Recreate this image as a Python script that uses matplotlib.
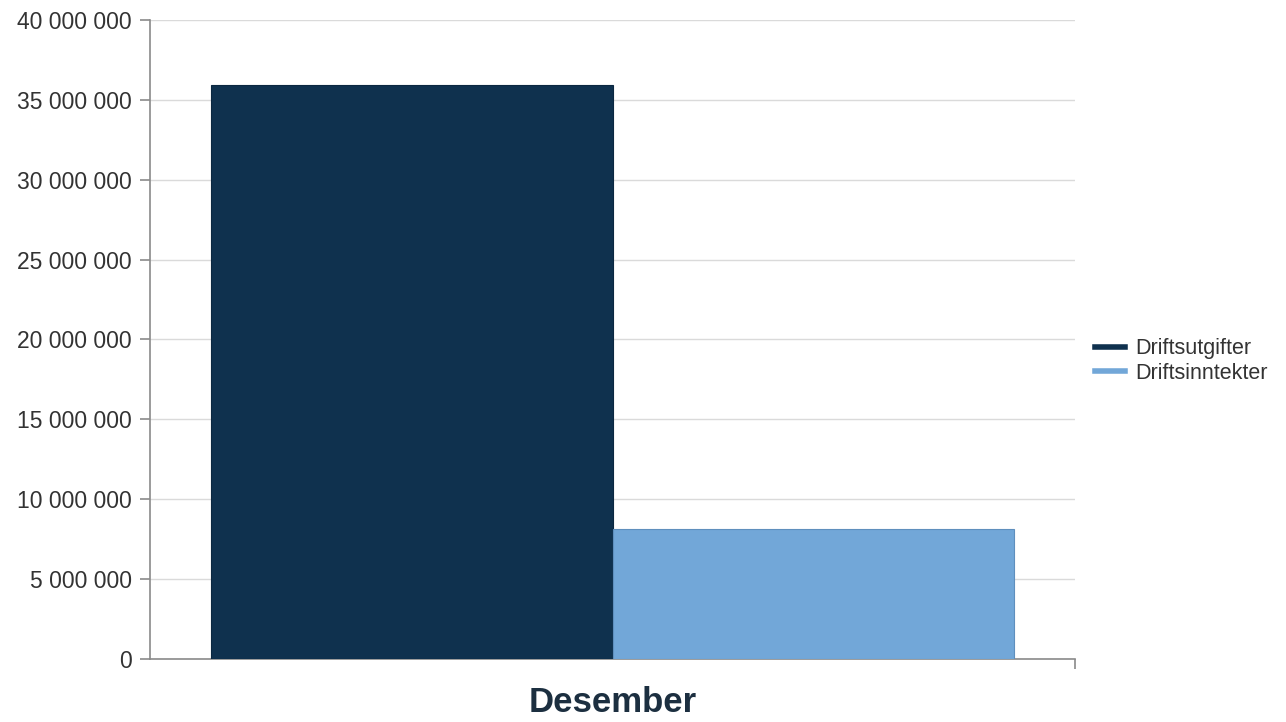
import numpy as np
import matplotlib.pyplot as plt
from matplotlib.lines import Line2D
from matplotlib.ticker import FuncFormatter

plt.rcParams['font.family'] = ['Liberation Sans', 'DejaVu Sans']

# data
months = ["Desember"]
series = ["Driftsutgifter", "Driftsinntekter"]
utgifter = [35930000]
inntekter = [8140000]
colors = ["#0f314e", "#72a7d8"]
edges = ["#0b2740", "#5f8fbd"]

fig = plt.figure(figsize=(12.86, 7.22), dpi=100)
ax = fig.add_axes([0.1166, 0.0873, 0.7194, 0.885])

x = np.arange(len(months))
w = 0.4335
ax.bar(x - w / 2, utgifter, w, color=colors[0], edgecolor=edges[0], linewidth=0.8, zorder=3)
ax.bar(x + w / 2, inntekter, w, color=colors[1], edgecolor=edges[1], linewidth=0.8, zorder=3)

ax.set_xlim(-0.5, 0.5)
ax.set_ylim(0, 40000000)
ax.set_yticks(np.arange(0, 40000001, 5000000))
ax.yaxis.set_major_formatter(FuncFormatter(lambda v, p: f"{int(v):,}".replace(",", " ")))
ax.grid(axis="y", color="#dadada", linewidth=1, zorder=0)

for s in ["top", "right"]:
    ax.spines[s].set_visible(False)
for s in ["left", "bottom"]:
    ax.spines[s].set_color("#8a8a8a")
    ax.spines[s].set_linewidth(1.2)

ax.tick_params(axis="y", length=7, width=1.2, color="#8a8a8a", labelsize=16.5,
               labelcolor="#333333", pad=6)
ax.set_xticks([0.5])
ax.set_xticklabels([""])
ax.tick_params(axis="x", length=7, width=1.2, color="#8a8a8a")
ax.set_xlabel(months[0], fontsize=25, fontweight="bold", color="#1c2f40", labelpad=9)

handles = [Line2D([], [], color=c, linewidth=4) for c in colors]
fig.legend(handles, series, loc="center left", bbox_to_anchor=(0.84, 0.50),
           frameon=False, fontsize=15.5, handlelength=1.4, handletextpad=0.45,
           labelspacing=0.15, borderpad=0.2, labelcolor="#333333")

fig.savefig("out.png", dpi=100)
